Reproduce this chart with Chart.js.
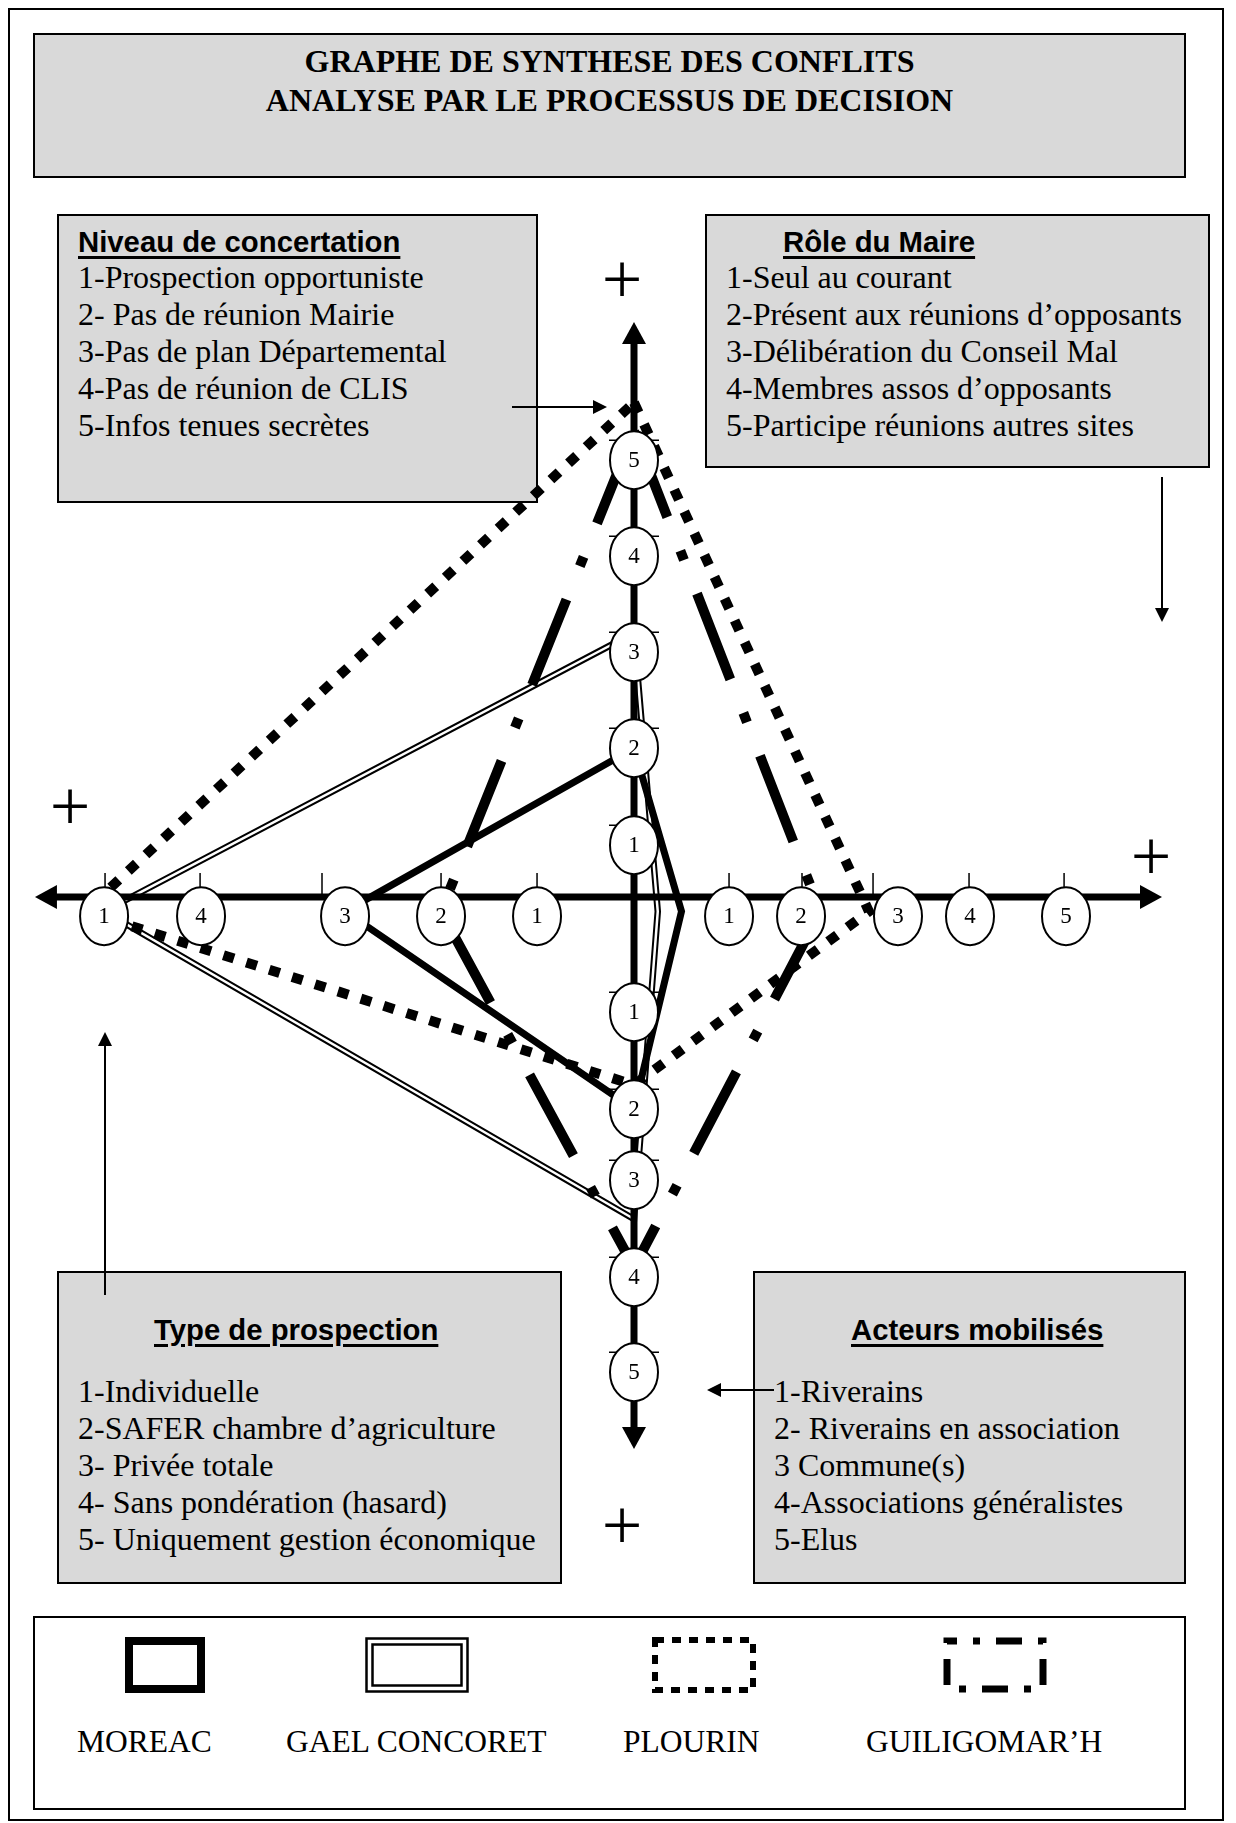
<!DOCTYPE html>
<html lang="fr">
<head>
<meta charset="utf-8">
<title>Graphe de synthèse des conflits</title>
<script src="https://cdn.jsdelivr.net/npm/chart.js@4.4.1/dist/chart.umd.min.js"></script>
<style>
  html, body { margin: 0; padding: 0; background: #fff; }
  #page { position: relative; width: 1236px; height: 1823px; overflow: hidden;
          font-family: "Liberation Serif", "Times New Roman", serif; color: #000; }
  .frame { position: absolute; left: 8px; top: 8px; width: 1216px; height: 1813px;
           border: 2px solid #000; box-sizing: border-box; }
  .box { position: absolute; background: #d9d9d9; border: 2px solid #000; box-sizing: border-box; }
  .legendbox { position: absolute; background: #fff; border: 2px solid #000; box-sizing: border-box; }
  .title { position: absolute; left: 33px; width: 1153px; text-align: center; font-weight: bold;
           font-size: 32px; line-height: 39px; }
  .txt { position: absolute; white-space: pre; font-size: 32px; line-height: 37px; }
  .hdr { position: absolute; white-space: pre; font-family: "Liberation Sans", Arial, sans-serif;
         font-weight: bold; font-size: 29.3px; line-height: 36px; text-decoration: underline;
         text-decoration-thickness: 3px; text-underline-offset: 4px; }
  .plus { position: absolute; width: 80px; text-align: center; font-size: 72px; line-height: 72px; }
  .lab { position: absolute; white-space: pre; font-size: 31.5px; line-height: 36px; }
  canvas { position: absolute; left: 0; top: 0; pointer-events: none; }
</style>
</head>
<body>
<div id="page">
  <div class="frame"></div>

  <div class="box" style="left:33px;top:33px;width:1153px;height:145px"></div>
  <div class="title" style="top:42px">GRAPHE DE SYNTHESE DES CONFLITS<br>ANALYSE PAR LE PROCESSUS DE DECISION</div>

  <div class="box" style="left:57px;top:214px;width:481px;height:289px"></div>
  <div class="hdr" style="left:78px;top:224px">Niveau de concertation</div>
  <div class="txt" style="left:78px;top:259px">1-Prospection opportuniste
2- Pas de réunion Mairie
3-Pas de plan Départemental
4-Pas de réunion de CLIS
5-Infos tenues secrètes</div>

  <div class="box" style="left:705px;top:214px;width:505px;height:254px"></div>
  <div class="hdr" style="left:783px;top:224px">Rôle du Maire</div>
  <div class="txt" style="left:726px;top:259px">1-Seul au courant
2-Présent aux réunions d’opposants
3-Délibération du Conseil Mal
4-Membres assos d’opposants
5-Participe réunions autres sites</div>

  <div class="box" style="left:57px;top:1271px;width:505px;height:313px"></div>
  <div class="hdr" style="left:154px;top:1312px">Type de prospection</div>
  <div class="txt" style="left:78px;top:1373px">1-Individuelle
2-SAFER chambre d’agriculture
3- Privée totale
4- Sans pondération (hasard)
5- Uniquement gestion économique</div>

  <div class="box" style="left:753px;top:1271px;width:433px;height:313px"></div>
  <div class="hdr" style="left:851px;top:1312px">Acteurs mobilisés</div>
  <div class="txt" style="left:774px;top:1373px">1-Riverains
2- Riverains en association
3 Commune(s)
4-Associations généralistes
5-Elus</div>

  <div class="plus" style="left:582px;top:243px">+</div>
  <div class="plus" style="left:30px;top:770px">+</div>
  <div class="plus" style="left:1111px;top:820px">+</div>
  <div class="plus" style="left:582px;top:1489px">+</div>

  <div class="legendbox" style="left:33px;top:1616px;width:1153px;height:194px"></div>
  <div class="lab" style="left:77px;top:1724px">MOREAC</div>
  <div class="lab" style="left:286px;top:1724px">GAEL CONCORET</div>
  <div class="lab" style="left:623px;top:1724px">PLOURIN</div>
  <div class="lab" style="left:866px;top:1724px">GUILIGOMAR’H</div>

  <canvas id="graphe" width="1236" height="1823"></canvas>
</div>

<script>
// page geometry: centre of the cross and pixels per unit
const W = 1236, H = 1823;
const CX = 634, CY = 897, PX = 96;

// sites (legend order)
const sites = ["MOREAC", "GAEL CONCORET", "PLOURIN", "GUILIGOMAR’H"];

// level read on each half axis, one value per site
const levelTop = [2, 3.2, 5.6, 5.3];        // niveau de concertation
const levelRight = [0.5, 0.25, 2.7, 2.2];   // rôle du maire
const levelBottom = [2, 3.4, 1.75, 3.9];    // acteurs mobilisés
const levelLeft = [3, 5, 5.2, 2];           // type de prospection

// where the graduations 1..5 sit on each half axis (units from the centre)
const topSlots = [0.54, 1.55, 2.55, 3.55, 4.55];
const rightSlots = [0.99, 1.74, 2.75, 3.5, 4.5];
const bottomSlots = [1.2, 2.21, 2.95, 3.96, 4.95];
const leftSlots = [1.01, 2.01, 3.01, 4.51, 5.52];
const rightTicks = [0.99, 1.75, 2.49, 3.49, 4.48];
const leftTicks = [1.01, 2.01, 3.25, 4.52, 5.51];

// tick labels written in the ovals
const slotLabels = ["1", "2", "3", "4", "5"];
const leftLabels = ["1", "2", "3", "4", "1"];

// half axis lengths (units)
const axisLeft = 6.24, axisRight = 5.5, axisTop = 5.99, axisBottom = 5.75;
const MARK_DROP = 0.2;   // ovals of the horizontal axis hang below it
const VERT_DROP = 0.15;  // vertices on the horizontal axis

function along(slots, level) {
  if (level <= 1) return level * slots[0];
  if (level >= 5) return slots[4] + (level - 5) * (slots[4] - slots[3]);
  const k = Math.floor(level) - 1;
  return slots[k] + (level - 1 - k) * (slots[k + 1] - slots[k]);
}

function polygon(i) {
  const t = along(topSlots, levelTop[i]);
  const r = along(rightSlots, levelRight[i]);
  const b = along(bottomSlots, levelBottom[i]);
  const l = along(leftSlots, levelLeft[i]);
  return [
    { x: 0, y: t },
    { x: r, y: -VERT_DROP },
    { x: 0, y: -b },
    { x: -l, y: -VERT_DROP },
    { x: 0, y: t },
  ];
}

const base = { showLine: true, pointRadius: 0, tension: 0, borderColor: "#000", fill: false };
const datasets = [
  { ...base, label: sites[3], data: polygon(3), borderWidth: 10, borderDash: [92, 36, 10, 36], order: 1 },
  { ...base, label: sites[2], data: polygon(2), borderWidth: 10, borderDash: [11, 13], order: 2 },
  { ...base, label: sites[0], data: polygon(0), borderWidth: 7, order: 3 },
  { ...base, label: sites[1] + " (coeur)", data: polygon(1), borderWidth: 2.5, borderColor: "#fff", order: 4 },
  { ...base, label: sites[1], data: polygon(1), borderWidth: 6.5, order: 5 },
];

function arrowHead(ctx, x, y, dx, dy, len, half) {
  const nx = -dy, ny = dx;
  ctx.beginPath();
  ctx.moveTo(x, y);
  ctx.lineTo(x - dx * len + nx * half, y - dy * len + ny * half);
  ctx.lineTo(x - dx * len - nx * half, y - dy * len - ny * half);
  ctx.closePath();
  ctx.fill();
}

function arrow(ctx, x0, y0, x1, y1, width, len, half) {
  const d = Math.hypot(x1 - x0, y1 - y0);
  const dx = (x1 - x0) / d, dy = (y1 - y0) / d;
  ctx.lineWidth = width;
  ctx.beginPath();
  ctx.moveTo(x0, y0);
  ctx.lineTo(x1 - dx * (len - 2), y1 - dy * (len - 2));
  ctx.stroke();
  arrowHead(ctx, x1, y1, dx, dy, len, half);
}

function oval(ctx, cx, cy, text) {
  ctx.beginPath();
  ctx.ellipse(cx, cy, 24, 29, 0, 0, Math.PI * 2);
  ctx.fillStyle = "#fff";
  ctx.fill();
  ctx.lineWidth = 2;
  ctx.strokeStyle = "#000";
  ctx.stroke();
  ctx.fillStyle = "#000";
  ctx.fillText(text, cx, cy + 1);
}

const decor = {
  id: "decor",
  afterDatasetsDraw(chart) {
    const { ctx, scales: { x, y } } = chart;
    const px = (v) => x.getPixelForValue(v);
    const py = (v) => y.getPixelForValue(v);
    const ox = px(0), oy = py(0);
    ctx.save();
    ctx.strokeStyle = "#000";
    ctx.fillStyle = "#000";
    ctx.lineCap = "butt";

    // the cross
    arrow(ctx, px(0), oy, px(-axisLeft), oy, 7, 22, 12);
    arrow(ctx, px(0), oy, px(axisRight), oy, 7, 22, 12);
    arrow(ctx, ox, py(0), ox, py(axisTop), 7, 22, 12);
    arrow(ctx, ox, py(0), ox, py(-axisBottom), 7, 22, 12);

    // ticks
    ctx.lineWidth = 1.5;
    ctx.beginPath();
    leftTicks.forEach((v) => { ctx.moveTo(px(-v), oy - 24); ctx.lineTo(px(-v), oy); });
    rightTicks.forEach((v) => { ctx.moveTo(px(v), oy - 24); ctx.lineTo(px(v), oy); });
    topSlots.forEach((v) => { ctx.moveTo(ox - 25, py(v) - 20); ctx.lineTo(ox + 25, py(v) - 20); });
    bottomSlots.forEach((v) => { ctx.moveTo(ox - 25, py(-v) - 20); ctx.lineTo(ox + 25, py(-v) - 20); });
    ctx.stroke();

    // ovals
    ctx.font = '23px "Liberation Serif", serif';
    ctx.textAlign = "center";
    ctx.textBaseline = "middle";
    leftSlots.forEach((v, k) => oval(ctx, px(-v), py(-MARK_DROP), leftLabels[k]));
    rightSlots.forEach((v, k) => oval(ctx, px(v), py(-MARK_DROP), slotLabels[k]));
    topSlots.forEach((v, k) => oval(ctx, ox, py(v), slotLabels[k]));
    bottomSlots.forEach((v, k) => oval(ctx, ox, py(-v), slotLabels[k]));

    // arrows from the boxes
    arrow(ctx, 512, 407, 607, 407, 2, 14, 7);
    arrow(ctx, 1162, 477, 1162, 622, 2, 14, 7);
    arrow(ctx, 105, 1295, 105, 1032, 2, 14, 7);
    arrow(ctx, 774, 1390, 707, 1390, 2, 14, 7);

    // legend keys, same strokes as the datasets
    ctx.setLineDash([]);
    ctx.lineWidth = 8;
    ctx.strokeRect(129, 1641, 72, 48);
    ctx.lineWidth = 2.5;
    ctx.strokeRect(366.5, 1638.5, 101, 53);
    ctx.strokeRect(372.5, 1644.5, 89, 41);
    ctx.lineWidth = 6;
    ctx.setLineDash([9, 8]);
    ctx.strokeRect(655, 1640, 98, 50);
    ctx.lineWidth = 7;
    ctx.setLineDash([26, 16, 7, 16]);
    ctx.lineDashOffset = 16;
    ctx.strokeRect(947, 1641, 96, 48);
    ctx.restore();
  },
};

new Chart(document.getElementById("graphe"), {
  type: "scatter",
  data: { datasets },
  options: {
    responsive: false,
    animation: false,
    events: [],
    layout: { padding: 0 },
    plugins: { legend: { display: false }, tooltip: { enabled: false } },
    scales: {
      x: { type: "linear", display: false, min: -CX / PX, max: (W - CX) / PX },
      y: { type: "linear", display: false, min: -(H - CY) / PX, max: CY / PX },
    },
  },
  plugins: [decor],
});
</script>
</body>
</html>
